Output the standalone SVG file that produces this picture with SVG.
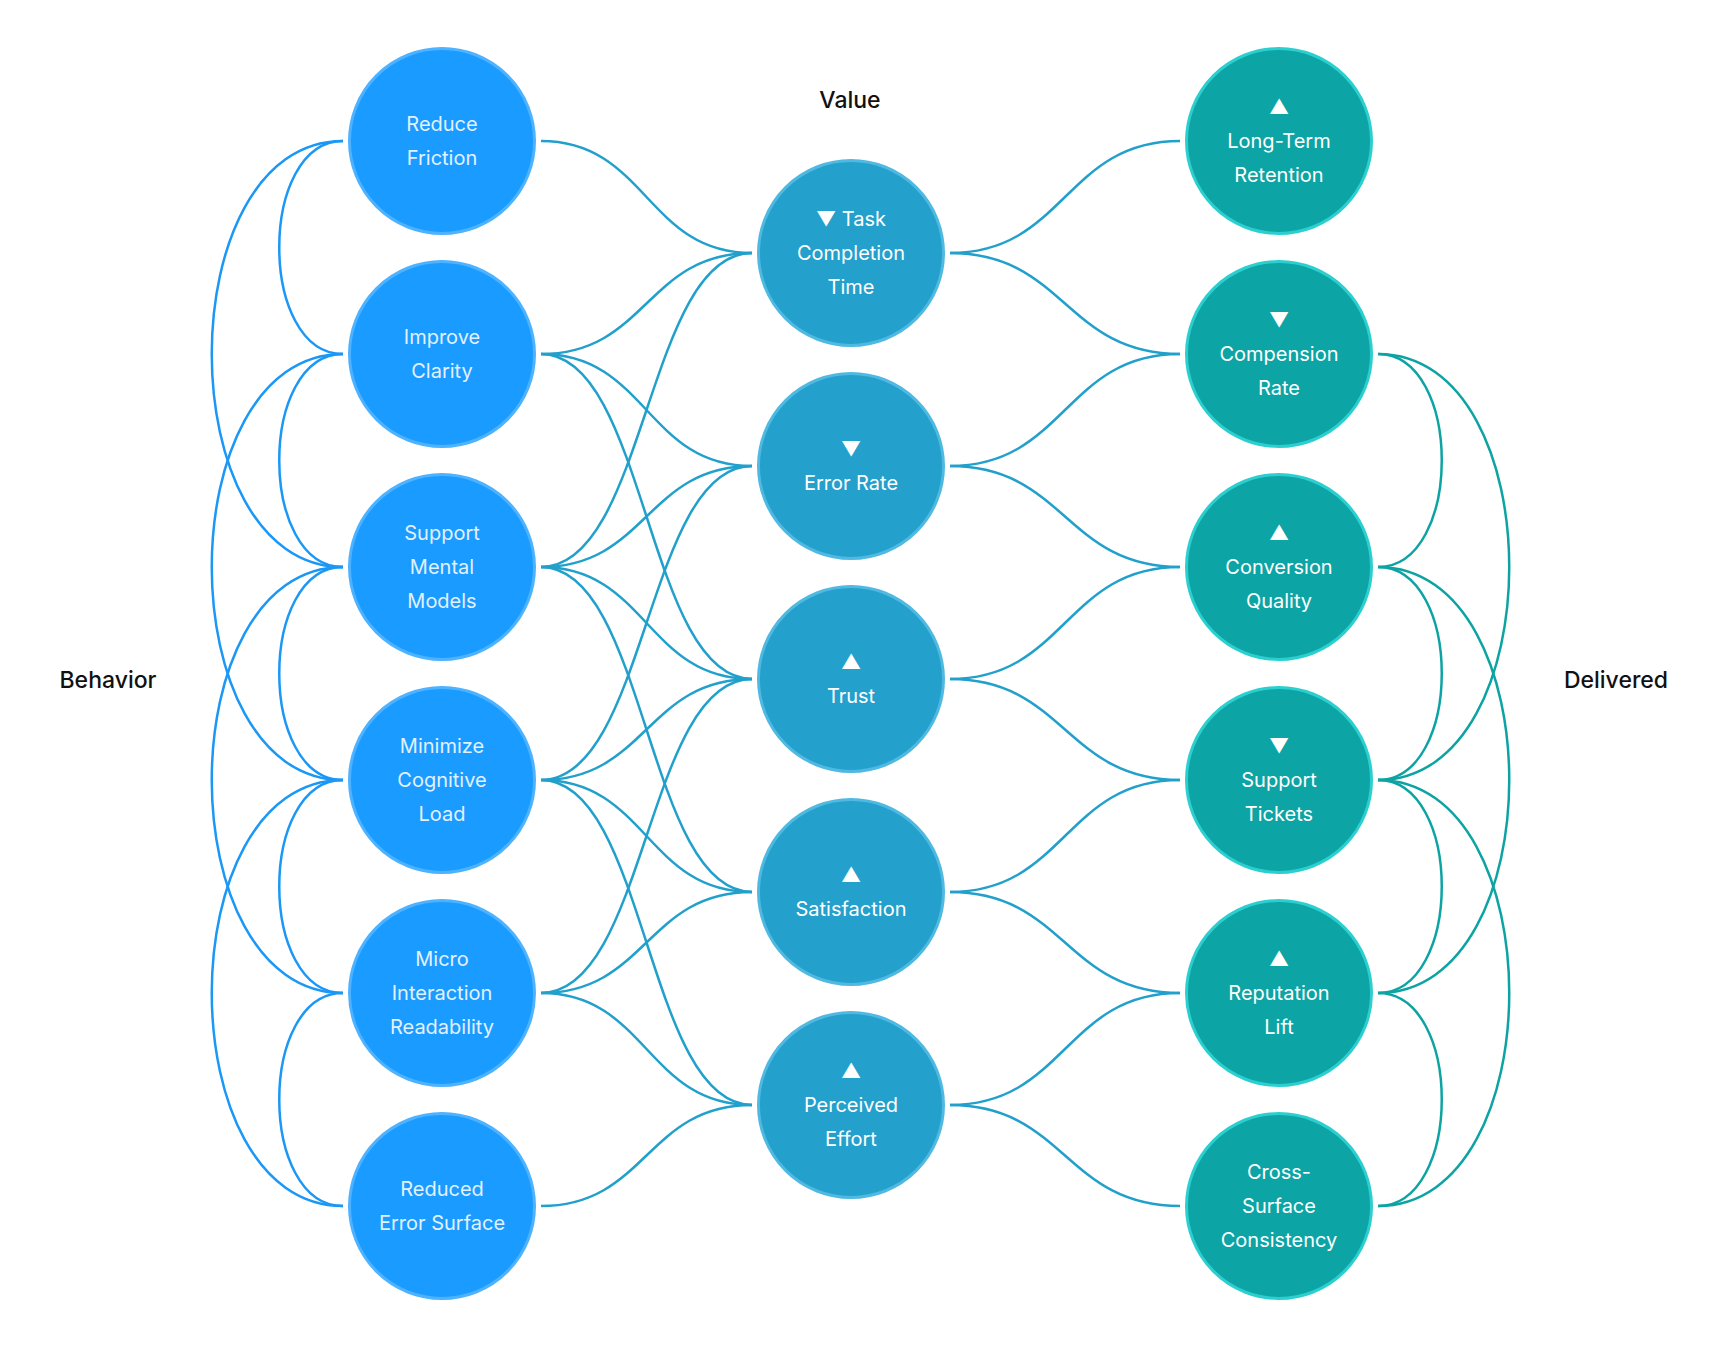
<svg xmlns="http://www.w3.org/2000/svg" width="1728" height="1349" viewBox="0 0 1728 1349">
<style>
.bg{fill:#ffffff}
.lm{fill:none;stroke:#22a0cc;stroke-width:2.5}
.la{fill:none;stroke:#1b97f5;stroke-width:2.5}
.ra{fill:none;stroke:#0ea3a3;stroke-width:2.5}
.nl{fill:#1a9bff;stroke:#4db2ff;stroke-width:3}
.nm{fill:#24a0cc;stroke:#4fb9e2;stroke-width:3}
.nr{fill:#0ca4a4;stroke:#2ccfcf;stroke-width:3}
.t{font-family:Inter,"DejaVu Sans",sans-serif;font-size:20px;font-weight:400;text-anchor:middle;fill:#ffffff}
.tl{fill:#e2f1ff}
.h{font-family:Inter,"DejaVu Sans",sans-serif;font-size:23px;font-weight:500;text-anchor:middle;fill:#111111}
</style>
<rect class="bg" x="0" y="0" width="1728" height="1349"/>
<g id="connectors">
<path class="la" d="M343,141 C258,141 258,354 343,354"/>
<path class="la" d="M343,354 C258,354 258,567 343,567"/>
<path class="la" d="M343,567 C258,567 258,780 343,780"/>
<path class="la" d="M343,780 C258,780 258,993 343,993"/>
<path class="la" d="M343,993 C258,993 258,1206 343,1206"/>
<path class="la" d="M343,141 C168,141 168,567 343,567"/>
<path class="la" d="M343,354 C168,354 168,780 343,780"/>
<path class="la" d="M343,567 C168,567 168,993 343,993"/>
<path class="la" d="M343,780 C168,780 168,1206 343,1206"/>
<path class="lm" d="M541,141 C646.5,141 646.5,253 752,253"/>
<path class="lm" d="M541,354 C646.5,354 646.5,253 752,253"/>
<path class="lm" d="M541,354 C646.5,354 646.5,466 752,466"/>
<path class="lm" d="M541,354 C646.5,354 646.5,679 752,679"/>
<path class="lm" d="M541,567 C646.5,567 646.5,253 752,253"/>
<path class="lm" d="M541,567 C646.5,567 646.5,466 752,466"/>
<path class="lm" d="M541,567 C646.5,567 646.5,679 752,679"/>
<path class="lm" d="M541,567 C646.5,567 646.5,892 752,892"/>
<path class="lm" d="M541,780 C646.5,780 646.5,466 752,466"/>
<path class="lm" d="M541,780 C646.5,780 646.5,679 752,679"/>
<path class="lm" d="M541,780 C646.5,780 646.5,892 752,892"/>
<path class="lm" d="M541,780 C646.5,780 646.5,1105 752,1105"/>
<path class="lm" d="M541,993 C646.5,993 646.5,679 752,679"/>
<path class="lm" d="M541,993 C646.5,993 646.5,892 752,892"/>
<path class="lm" d="M541,993 C646.5,993 646.5,1105 752,1105"/>
<path class="lm" d="M541,1206 C646.5,1206 646.5,1105 752,1105"/>
<path class="lm" d="M950,253 C1065,253 1065,141 1180,141"/>
<path class="lm" d="M950,253 C1065,253 1065,354 1180,354"/>
<path class="lm" d="M950,466 C1065,466 1065,354 1180,354"/>
<path class="lm" d="M950,466 C1065,466 1065,567 1180,567"/>
<path class="lm" d="M950,679 C1065,679 1065,567 1180,567"/>
<path class="lm" d="M950,679 C1065,679 1065,780 1180,780"/>
<path class="lm" d="M950,892 C1065,892 1065,780 1180,780"/>
<path class="lm" d="M950,892 C1065,892 1065,993 1180,993"/>
<path class="lm" d="M950,1105 C1065,1105 1065,993 1180,993"/>
<path class="lm" d="M950,1105 C1065,1105 1065,1206 1180,1206"/>
<path class="ra" d="M1378,354 C1463,354 1463,567 1378,567"/>
<path class="ra" d="M1378,567 C1463,567 1463,780 1378,780"/>
<path class="ra" d="M1378,780 C1463,780 1463,993 1378,993"/>
<path class="ra" d="M1378,993 C1463,993 1463,1206 1378,1206"/>
<path class="ra" d="M1378,354 C1553,354 1553,780 1378,780"/>
<path class="ra" d="M1378,567 C1553,567 1553,993 1378,993"/>
<path class="ra" d="M1378,780 C1553,780 1553,1206 1378,1206"/>
</g>
<g id="label-behavior"><text class="h" x="108" y="688">Behavior</text></g>
<g id="label-value"><text class="h" x="850" y="108">Value</text></g>
<g id="label-delivered"><text class="h" x="1616" y="688">Delivered</text></g>
<g id="n-reduce-friction"><circle class="nl" cx="442" cy="141" r="92.5"/><text class="t tl" x="442" y="131">Reduce</text><text class="t tl" x="442" y="165">Friction</text></g>
<g id="n-improve-clarity"><circle class="nl" cx="442" cy="354" r="92.5"/><text class="t tl" x="442" y="344">Improve</text><text class="t tl" x="442" y="378">Clarity</text></g>
<g id="n-support-mental-models"><circle class="nl" cx="442" cy="567" r="92.5"/><text class="t tl" x="442" y="540">Support</text><text class="t tl" x="442" y="574">Mental</text><text class="t tl" x="442" y="608">Models</text></g>
<g id="n-minimize-cognitive-load"><circle class="nl" cx="442" cy="780" r="92.5"/><text class="t tl" x="442" y="753">Minimize</text><text class="t tl" x="442" y="787">Cognitive</text><text class="t tl" x="442" y="821">Load</text></g>
<g id="n-micro-interaction"><circle class="nl" cx="442" cy="993" r="92.5"/><text class="t tl" x="442" y="966">Micro</text><text class="t tl" x="442" y="1000">Interaction</text><text class="t tl" x="442" y="1034">Readability</text></g>
<g id="n-reduced-error-surface"><circle class="nl" cx="442" cy="1206" r="92.5"/><text class="t tl" x="442" y="1196">Reduced</text><text class="t tl" x="442" y="1230">Error Surface</text></g>
<g id="n-task-completion"><circle class="nm" cx="851" cy="253" r="92.5"/><text class="t" x="851" y="226">▼ Task</text><text class="t" x="851" y="260">Completion</text><text class="t" x="851" y="294">Time</text></g>
<g id="n-error-rate"><circle class="nm" cx="851" cy="466" r="92.5"/><text class="t" x="851" y="456">▼</text><text class="t" x="851" y="490">Error Rate</text></g>
<g id="n-trust"><circle class="nm" cx="851" cy="679" r="92.5"/><text class="t" x="851" y="669">▲</text><text class="t" x="851" y="703">Trust</text></g>
<g id="n-satisfaction"><circle class="nm" cx="851" cy="892" r="92.5"/><text class="t" x="851" y="882">▲</text><text class="t" x="851" y="916">Satisfaction</text></g>
<g id="n-perceived-effort"><circle class="nm" cx="851" cy="1105" r="92.5"/><text class="t" x="851" y="1078">▲</text><text class="t" x="851" y="1112">Perceived</text><text class="t" x="851" y="1146">Effort</text></g>
<g id="n-long-term-retention"><circle class="nr" cx="1279" cy="141" r="92.5"/><text class="t" x="1279" y="114">▲</text><text class="t" x="1279" y="148">Long-Term</text><text class="t" x="1279" y="182">Retention</text></g>
<g id="n-compension-rate"><circle class="nr" cx="1279" cy="354" r="92.5"/><text class="t" x="1279" y="327">▼</text><text class="t" x="1279" y="361">Compension</text><text class="t" x="1279" y="395">Rate</text></g>
<g id="n-conversion-quality"><circle class="nr" cx="1279" cy="567" r="92.5"/><text class="t" x="1279" y="540">▲</text><text class="t" x="1279" y="574">Conversion</text><text class="t" x="1279" y="608">Quality</text></g>
<g id="n-support-tickets"><circle class="nr" cx="1279" cy="780" r="92.5"/><text class="t" x="1279" y="753">▼</text><text class="t" x="1279" y="787">Support</text><text class="t" x="1279" y="821">Tickets</text></g>
<g id="n-reputation-lift"><circle class="nr" cx="1279" cy="993" r="92.5"/><text class="t" x="1279" y="966">▲</text><text class="t" x="1279" y="1000">Reputation</text><text class="t" x="1279" y="1034">Lift</text></g>
<g id="n-cross-surface"><circle class="nr" cx="1279" cy="1206" r="92.5"/><text class="t" x="1279" y="1179">Cross-</text><text class="t" x="1279" y="1213">Surface</text><text class="t" x="1279" y="1247">Consistency</text></g>
</svg>
